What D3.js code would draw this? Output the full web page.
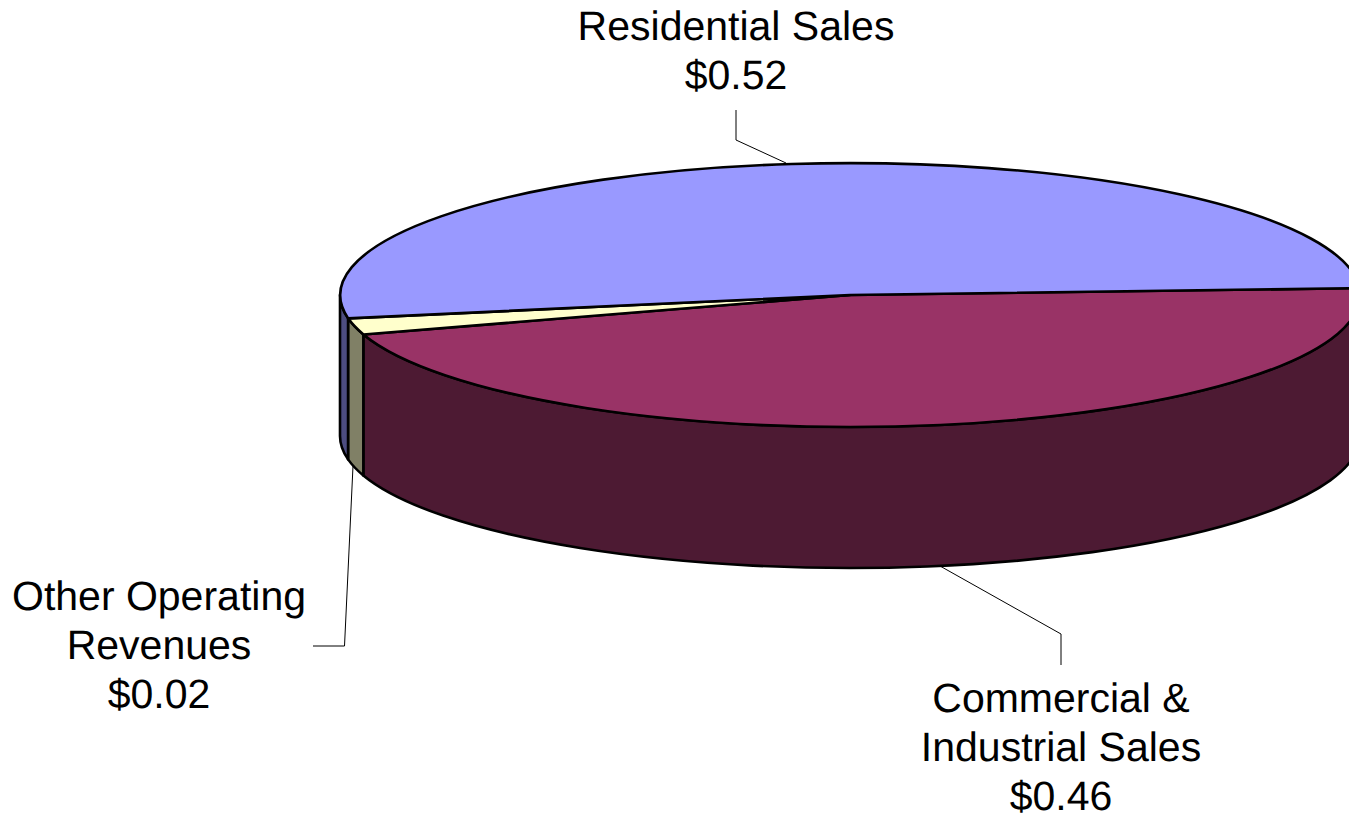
<!DOCTYPE html>
<html>
<head>
<meta charset="utf-8">
<script src="https://cdn.jsdelivr.net/npm/d3@7/dist/d3.min.js"></script>
<style>
html,body{margin:0;padding:0;background:#fff;overflow:hidden}
svg{display:block}
text{font-family:"Liberation Sans",Arial,sans-serif;font-size:41px;fill:#000;text-anchor:middle;text-rendering:geometricPrecision}
</style>
</head>
<body>
<svg id="chart" width="1349" height="819"></svg>
<script>
// Revenue dollar breakdown, drawn as a tilted 3-D pie
const categories = ["Commercial & Industrial Sales", "Other Operating Revenues", "Residential Sales"];
const values = [0.46, 0.02, 0.52];
const topColors = ["#993366", "#ffffcc", "#9999ff"];
const sideColors = ["#4d1a33", "#808066", "#4d4d80"];
const labelLines = [
  ["Commercial &", "Industrial Sales", "$0.46"],
  ["Other Operating", "Revenues", "$0.02"],
  ["Residential Sales", "$0.52"]
];
const labelAnchors = [[1061, 712], [159, 610], [736, 40]];
const leaders = [
  [[1061, 665], [1061, 634], [940, 566]],
  [[313, 646], [344.5, 646], [353, 466]],
  [[736, 110], [736, 140], [786, 163]]
];

const cx = 850, cy = 295, rx = 510, ry = 132, depth = 141;
const lineHeight = 49;
const startDeg = 87;
const strokeW = 2.6;
const svg = d3.select("#chart");

const pie = d3.pie().sort(null)
  .startAngle(startDeg * Math.PI / 180)
  .endAngle((startDeg + 360) * Math.PI / 180);
const slices = pie(values);

// Rim point on the tilted ellipse; angle is clockwise from the top
const rimX = a => cx + rx * Math.sin(a);
const rimY = a => cy - ry * Math.cos(a);

// Only the near half of the rim (90deg to 270deg) has a visible wall
function wallPath(s) {
  const wrap = [0, 2 * Math.PI];
  for (const k of wrap) {
    const a0 = Math.max(s.startAngle, Math.PI / 2 + k);
    const a1 = Math.min(s.endAngle, 3 * Math.PI / 2 + k);
    if (a1 > a0) {
      return `M${rimX(a0)},${rimY(a0)}` +
        `A${rx},${ry} 0 0 1 ${rimX(a1)},${rimY(a1)}` +
        `L${rimX(a1)},${rimY(a1) + depth}` +
        `A${rx},${ry} 0 0 0 ${rimX(a0)},${rimY(a0) + depth}Z`;
    }
  }
  return null;
}

svg.append("g").selectAll("path")
  .data(slices.filter(s => wallPath(s)))
  .join("path")
  .attr("d", wallPath)
  .attr("fill", s => sideColors[s.index])
  .attr("stroke", "#000")
  .attr("stroke-width", strokeW)
  .attr("stroke-linejoin", "round");

const arc = d3.arc().innerRadius(0).outerRadius(1);
svg.append("g")
  .attr("transform", `translate(${cx},${cy}) scale(${rx},${ry})`)
  .selectAll("path")
  .data(slices)
  .join("path")
  .attr("d", arc)
  .attr("fill", s => topColors[s.index])
  .attr("stroke", "#000")
  .attr("stroke-width", strokeW)
  .attr("stroke-linejoin", "round")
  .attr("vector-effect", "non-scaling-stroke");

const line = d3.line();
svg.append("g").selectAll("path")
  .data(leaders)
  .join("path")
  .attr("d", line)
  .attr("fill", "none")
  .attr("stroke", "#000")
  .attr("stroke-width", 1);

const labels = svg.append("g").selectAll("text")
  .data(labelLines)
  .join("text")
  .attr("transform", (d, i) => `translate(${labelAnchors[i][0]},${labelAnchors[i][1]})`);
labels.selectAll("tspan")
  .data(d => d)
  .join("tspan")
  .attr("x", 0)
  .attr("y", (d, i) => i * lineHeight)
  .text(d => d);
</script>
</body>
</html>
